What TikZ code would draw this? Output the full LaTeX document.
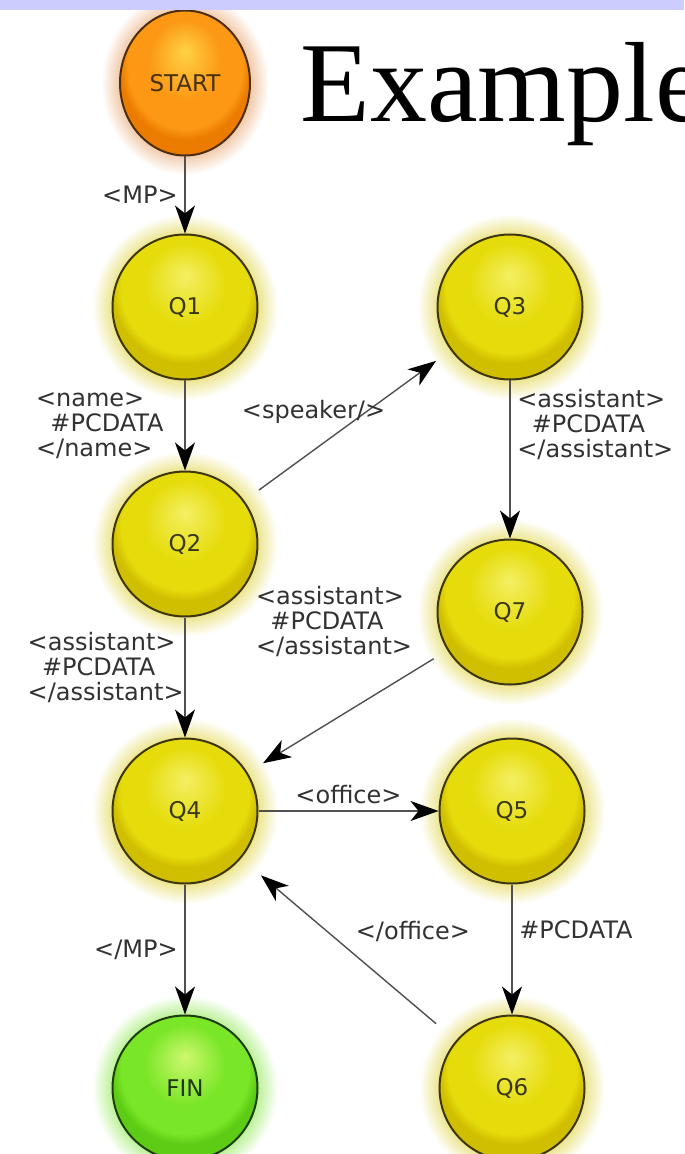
\documentclass[tikz,border=0pt]{standalone}
\usepackage{fontspec}
\setmainfont{Liberation Serif}
\newfontfamily\diagfont{DejaVu Sans}
\usepackage{tikz}
\usetikzlibrary{positioning,arrows.meta,shapes.geometric,backgrounds}

\definecolor{barblue}{RGB}{204,204,255}
\definecolor{qhi}{RGB}{244,240,100}
\definecolor{qmid}{RGB}{230,220,12}
\definecolor{qrim}{RGB}{208,190,0}
\definecolor{qline}{RGB}{62,54,18}
\definecolor{qtext}{RGB}{58,56,20}
\definecolor{qglow}{RGB}{234,226,130}
\definecolor{shi}{RGB}{255,210,70}
\definecolor{smid}{RGB}{252,152,20}
\definecolor{srim}{RGB}{236,124,0}
\definecolor{sline}{RGB}{76,46,18}
\definecolor{stext}{RGB}{70,48,20}
\definecolor{sglow}{RGB}{240,196,160}
\definecolor{fhi}{RGB}{206,248,110}
\definecolor{fmid}{RGB}{122,230,40}
\definecolor{frim}{RGB}{92,204,20}
\definecolor{fline}{RGB}{30,60,16}
\definecolor{ftext}{RGB}{30,56,16}
\definecolor{fglow}{RGB}{180,240,140}
\definecolor{edgegray}{RGB}{80,80,80}
\definecolor{labelgray}{RGB}{50,50,50}

% sphere shadings (25bp = node border)
\pgfdeclareradialshading{qorb}{\pgfpoint{0bp}{11bp}}{color(0bp)=(qhi); color(14bp)=(qmid); color(22bp)=(qmid); color(25bp)=(qrim); color(50bp)=(qrim)}
\pgfdeclareradialshading{sorb}{\pgfpoint{0bp}{11bp}}{color(0bp)=(shi); color(14bp)=(smid); color(22bp)=(smid); color(25bp)=(srim); color(50bp)=(srim)}
\pgfdeclareradialshading{forb}{\pgfpoint{0bp}{11bp}}{color(0bp)=(fhi); color(14bp)=(fmid); color(22bp)=(fmid); color(25bp)=(frim); color(50bp)=(frim)}
% soft halos
\pgfdeclareradialshading{qhalo}{\pgfpointorigin}{color(0bp)=(qglow); color(19bp)=(qglow); color(25bp)=(white); color(50bp)=(white)}
\pgfdeclareradialshading{shalo}{\pgfpointorigin}{color(0bp)=(sglow); color(19bp)=(sglow); color(25bp)=(white); color(50bp)=(white)}
\pgfdeclareradialshading{fhalo}{\pgfpointorigin}{color(0bp)=(fglow); color(19bp)=(fglow); color(25bp)=(white); color(50bp)=(white)}

\begin{document}
\begin{tikzpicture}[x=0.5pt, y=-0.5pt,
    every node/.style={font=\diagfont\fontsize{12}{12.5}\selectfont, text=labelgray},
    orb/.style={circle, minimum size=72.5pt, inner sep=0pt, line width=1pt, draw=qline, shading=qorb, text=qtext, font=\diagfont\fontsize{11.5}{12}\selectfont},
    startorb/.style={orb, ellipse, minimum width=65pt, minimum height=72.5pt, draw=sline, shading=sorb, text=stext},
    finorb/.style={orb, draw=fline, shading=forb, text=ftext},
    edge/.style={draw=edgegray, line width=0.7pt, -{Stealth[length=14pt, width=10pt, inset=4pt, black]}},
    lbl/.style={align=left},
]
\useasboundingbox (0,0) rectangle (684,1154);

% States
\node[startorb] (start) at (185,83) {START};
\node[orb, below=38.5pt of start] (q1) {Q1};
\node[orb, below=45pt of q1] (q2) {Q2};
\node[orb, below=60pt of q2] (q4) {Q4};
\node[finorb, below=65pt of q4] (fin) {FIN};
\node[orb, right=89pt of q1] (q3) {Q3};
\node[orb, below=79pt of q3] (q7) {Q7};
\node[orb, right=90pt of q4] (q5) {Q5};
\node[orb, below=65pt of q5] (q6) {Q6};

% Title and bar
\fill[barblue] (0,0) rectangle (684,10);
\node[anchor=base west, inner sep=0pt, text=black, font=\rmfamily\fontsize{57}{57}\selectfont] (title) at (300,122) {Example};

% Transitions
\draw[edge] (start) -- node[left]{<MP>} (q1);
\draw[edge] (q1) -- node[left, lbl, xshift=-7pt]{<name>\\\hspace*{0.6em}\#PCDATA\\</name>} (q2);
\draw[edge, shorten <=9pt, shorten >=9pt] (q2) -- node[midway, xshift=-17pt, yshift=7pt]{<speaker/>} (q3);
\draw[edge] (q3) -- node[right, lbl, pos=0.28]{<assistant>\\\hspace*{0.6em}\#PCDATA\\</assistant>} (q7);
\draw[edge] (q2) -- node[left, lbl, pos=0.42, xshift=3pt]{<assistant>\\\hspace*{0.6em}\#PCDATA\\</assistant>} (q4);
\draw[edge, shorten <=8pt, shorten >=9pt] (q7) -- node[above left, lbl, pos=0.11, xshift=-3pt]{<assistant>\\\hspace*{0.6em}\#PCDATA\\</assistant>} (q4);
\draw[edge] (q4) -- node[above]{<office>} (q5);
\draw[edge] (q5) -- node[right, pos=0.35]{\#PCDATA} (q6);
\draw[edge, shorten <=13pt, shorten >=13pt] (q6) -- node[above right]{</office>} (q4);
\draw[edge] (q4) -- node[left]{</MP>} (fin);

% Halos
\begin{scope}[on background layer]
\fill[white] (0,0) rectangle (684,1154);
\shade[shading=shalo] (start) ellipse [x radius=84, y radius=92];
\foreach \n in {q1,q2,q3,q4,q5,q6,q7}
  \shade[shading=qhalo] (\n) circle [radius=93];
\shade[shading=fhalo] (fin) circle [radius=93];
\end{scope}
\end{tikzpicture}
\end{document}
